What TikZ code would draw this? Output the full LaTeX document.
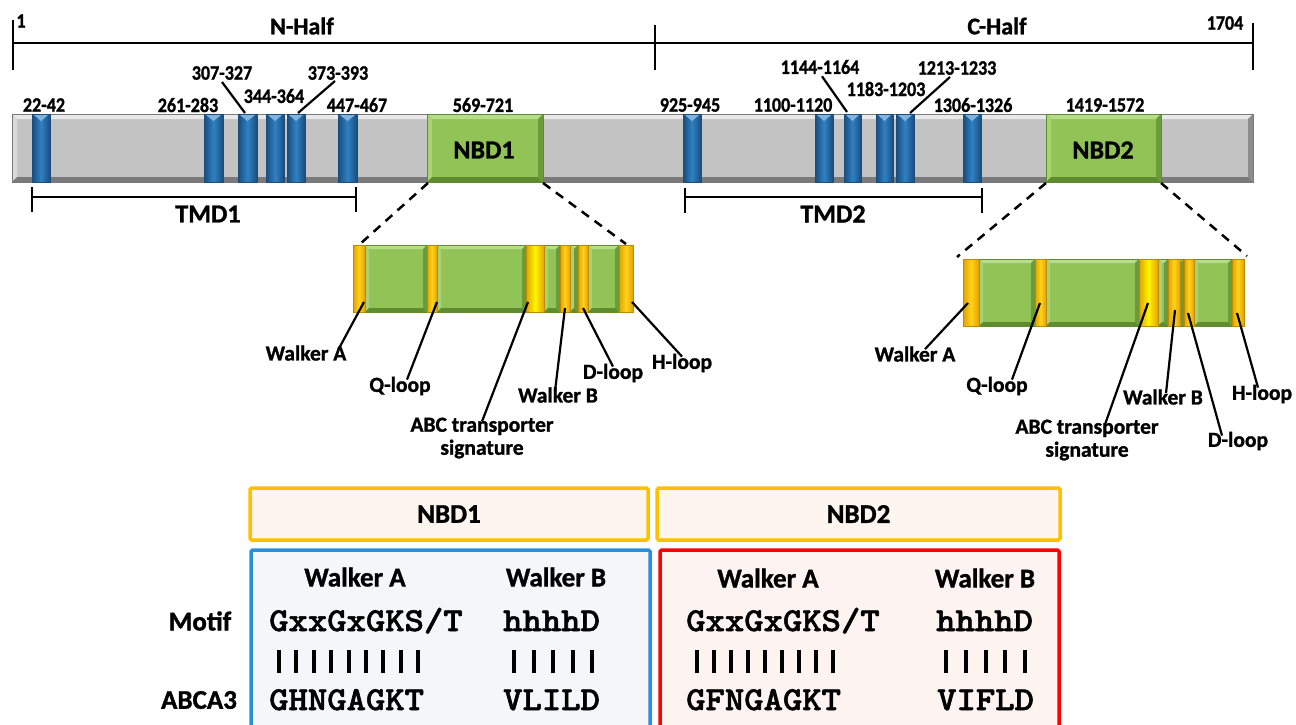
\documentclass[tikz,border=0pt]{standalone}
\usepackage{fontspec}
\setmainfont{Carlito}[BoldFeatures={FakeBold=1.2}]
\newfontfamily\monob{lmmonolt10-bold}[Extension=.otf, FakeBold=1.5]
\definecolor{barg}{HTML}{C3C3C3}
\definecolor{barl}{HTML}{E9E9E9}
\definecolor{bard}{HTML}{7A7A7A}
\definecolor{grn}{HTML}{92C356}
\definecolor{grnl}{HTML}{B7DC8A}
\definecolor{grnd}{HTML}{5E8C2E}
\definecolor{bmid}{HTML}{2F80C4}
\definecolor{bdark}{HTML}{1A4D7C}
\definecolor{ydark}{HTML}{E2A200}
\definecolor{ymid}{HTML}{FFD21A}
\definecolor{ylight}{HTML}{FFF500}
\definecolor{hdrfill}{HTML}{FDF5EE}
\definecolor{gold}{HTML}{FFC000}
\definecolor{bluefill}{HTML}{F4F6F9}
\definecolor{blueline}{HTML}{2A8FDB}
\definecolor{redfill}{HTML}{FDF3F1}
\definecolor{redline}{HTML}{FF0000}
\newcommand{\nm}[1]{\scalebox{0.88}[1]{#1}}
\newcommand{\sq}[1]{\scalebox{1.1}[1]{#1}}
\newcommand{\bevrect}[8]{%
  \fill[#5] (#1,#2) rectangle (#3,#4);
  \fill[#6] (#1,#2) -- (#3,#2) -- ({#3-#8},{#2+#8}) -- ({#1+#8},{#2+#8}) -- cycle;
  \fill[#6!60!#5] (#1,#2) -- ({#1+#8},{#2+#8}) -- ({#1+#8},{#4-#8}) -- (#1,#4) -- cycle;
  \fill[#7] (#1,#4) -- (#3,#4) -- ({#3-#8},{#4-#8}) -- ({#1+#8},{#4-#8}) -- cycle;
  \fill[#7!75!#5] (#3,#2) -- (#3,#4) -- ({#3-#8},{#4-#8}) -- ({#3-#8},{#2+#8}) -- cycle;
  \draw[#7, line width=0.8] (#1,#2) rectangle (#3,#4);
}
\newcommand{\tmseg}[2]{%
  \shade[left color=bdark, right color=bdark, middle color=bmid] (#1,114) rectangle (#2,182);
  \fill[bmid!60!white] (#1+2,115) -- (#2-2,115) -- ({(#1+#2)/2},121) -- cycle;
  \draw[bdark, line width=0.6] (#1,114) rectangle (#2,182);
}
\newcommand{\yband}[5]{%
  \shade[left color=ydark, right color=ydark, middle color=#5] (#1,#3) rectangle (#2,#4);
  \draw[ydark!85!black, line width=0.6] (#1,#3) rectangle (#2,#4);
}
\begin{document}
\begin{tikzpicture}[x=1pt,y=-1pt,
  num/.style={font=\bfseries\fontsize{20.5}{22}\selectfont, inner sep=0},
  half/.style={font=\bfseries\fontsize{24}{26}\selectfont, inner sep=0},
  tmd/.style={font=\bfseries\fontsize{26}{28}\selectfont, inner sep=0},
  part/.style={font=\bfseries\fontsize{21.5}{23}\selectfont, inner sep=0, align=center},
  tab/.style={font=\bfseries\fontsize{27}{30}\selectfont, inner sep=0},
  seq/.style={font=\monob\fontsize{33.5}{35}\selectfont, inner sep=0, anchor=base west},
  rulel/.style={line width=2.5},
  lead/.style={line width=2.2},
  zoomdash/.style={line width=2.5, dash pattern=on 9 off 7},
  vbar/.style={line width=4},
  hdr/.style={draw=gold, line width=3.5, fill=hdrfill, rounded corners=1.5, minimum height=52, inner sep=0, font=\bfseries\fontsize{27}{30}\selectfont}
]
\useasboundingbox (0,0) rectangle (1296,724);
\fill[white] (0,0) rectangle (1296,724);

% ---- ruler ----
\coordinate (r0) at (13,43);
\coordinate (r1) at (655,43);
\coordinate (r2) at (1253,43);
\draw[rulel] (r0) -- (r2);
\draw[rulel] (13,20) -- (13,70);
\draw[rulel] (655,25) -- (655,70);
\draw[rulel] (1253,23) -- (1253,70);
\node[num] (one) at (21,21) {\nm{1}};
\node[num] (end) at (1225,23) {\nm{1704}};
\node[half] (nh) at (302,26) {N-Half};
\node[half] (ch) at (997,26) {C-Half};

% ---- protein bar ----
\bevrect{12}{114}{1253}{182}{barg}{barl}{bard}{5}
\foreach \a/\b in {32/50,204/223,238/257,266/284,287/305,338/357,683/701,815/833,844/861,876/893,896/914,963/981}
  {\tmseg{\a}{\b}}
\bevrect{427}{114}{543}{182}{grn}{grnl}{grnd}{5}
\bevrect{1046}{114}{1161}{182}{grn}{grnl}{grnd}{5}
\node[tmd] (nbd1) at (484,150) {NBD1};
\node[tmd] (nbd2) at (1103,150) {NBD2};

% ---- TM labels ----
\node[num] (l22) at (44,105) {\nm{22-42}};
\node[num] (l261) at (188,105) {\nm{261-283}};
\node[num] (l307) at (222,73) {\nm{307-327}};
\node[num] (l344) at (274,96) {\nm{344-364}};
\node[num] (l373) at (338,73) {\nm{373-393}};
\node[num] (l447) at (357,105) {\nm{447-467}};
\node[num] (l569) at (483,105) {\nm{569-721}};
\node[num] (l925) at (690,105) {\nm{925-945}};
\node[num] (l1100) at (793,105) {\nm{1100-1120}};
\node[num] (l1144) at (820,67) {\nm{1144-1164}};
\node[num] (l1183) at (886,89) {\nm{1183-1203}};
\node[num] (l1213) at (957,68) {\nm{1213-1233}};
\node[num] (l1306) at (973,105) {\nm{1306-1326}};
\node[num] (l1419) at (1105,105) {\nm{1419-1572}};
\coordinate (t307) at (245,113);
\coordinate (t373) at (298,113);
\coordinate (t1144) at (847,112);
\coordinate (t1213) at (910,113);
\draw[lead] ([yshift=-2pt]l307.south) -- (t307);
\draw[lead] ([xshift=-3pt,yshift=-1pt]l373.south) -- (t373);
\draw[lead] ([xshift=2pt,yshift=-2pt]l1144.south) -- (t1144);
\draw[lead] ([xshift=-7pt,yshift=-2pt]l1213.south) -- (t1213);

% ---- TMD brackets ----
\draw[rulel] (32,197) -- (356,197);
\draw[rulel] (32,187) -- (32,212);
\draw[rulel] (356,187) -- (356,212);
\node[tmd] (tmd1) at (208,214) {TMD1};
\draw[rulel] (685,197) -- (982,197);
\draw[rulel] (685,188) -- (685,213);
\draw[rulel] (982,188) -- (982,213);
\node[tmd] (tmd2) at (833,214) {TMD2};

% ---- zoom lines ----
\coordinate (n1bl) at (428,183);
\coordinate (n1br) at (543,183);
\coordinate (d1tl) at (360,244);
\coordinate (d1tr) at (626,244);
\coordinate (n2bl) at (1046,183);
\coordinate (n2br) at (1161,183);
\coordinate (d2tl) at (957,257);
\coordinate (d2tr) at (1247,256);
\draw[zoomdash] (n1bl) -- (d1tl);
\draw[zoomdash] (n1br) -- (d1tr);
\draw[zoomdash] (n2bl) -- (d2tl);
\draw[zoomdash] (n2br) -- (d2tr);

% ---- NBD1 detail ----
\bevrect{353}{245}{633}{312}{grn}{grnl}{grnd}{4}
\foreach \a/\b in {365/427,437/526,544/560,570/578,588/619}
  {\bevrect{\a}{245}{\b}{312}{grn}{grnl}{grnd}{4}}
\yband{353}{365}{245}{312}{ymid}
\yband{427}{437}{245}{312}{ymid}
\yband{526}{544}{245}{312}{ylight}
\yband{560}{570}{245}{312}{ymid}
\yband{578}{588}{245}{312}{ymid}
\yband{619}{633}{245}{312}{ymid}

\node[part] (wa1) at (306,353) {Walker A};
\node[part] (q1) at (400,386) {Q-loop};
\node[part] (abc1) at (482,438) {ABC transporter\\signature};
\node[part] (wb1) at (558,395) {Walker B};
\node[part] (dl1) at (613,373) {D-loop};
\node[part] (hl1) at (682,363) {H-loop};
\coordinate (ba1) at (364,302);
\coordinate (bq1) at (437,302);
\coordinate (bs1) at (528,302);
\coordinate (bb1) at (565,308);
\coordinate (bd1) at (583,308);
\coordinate (bh1) at (632,302);
\draw[lead] ([xshift=-8pt,yshift=-4pt]wa1.north east) -- (ba1);
\draw[lead] ([xshift=7pt,yshift=-3pt]q1.north) -- (bq1);
\draw[lead] ([yshift=-4pt]abc1.north) -- (bs1);
\draw[lead] ([xshift=-3pt,yshift=-4pt]wb1.north) -- (bb1);
\draw[lead] ([yshift=-3pt]dl1.north) -- (bd1);
\draw[lead] ([yshift=-3pt]hl1.north) -- (bh1);

% ---- NBD2 detail ----
\bevrect{963}{259}{1244}{326}{grn}{grnl}{grnd}{4}
\foreach \a/\b in {979/1035,1046/1139,1158/1168,1180/1184,1194/1232}
  {\bevrect{\a}{259}{\b}{326}{grn}{grnl}{grnd}{4}}
\yband{963}{979}{259}{326}{ymid}
\yband{1035}{1046}{259}{326}{ymid}
\yband{1139}{1158}{259}{326}{ylight}
\yband{1168}{1180}{259}{326}{ymid}
\yband{1184}{1194}{259}{326}{ymid}
\yband{1232}{1244}{259}{326}{ymid}

\node[part] (wa2) at (915,354) {Walker A};
\node[part] (q2) at (997,386) {Q-loop};
\node[part] (abc2) at (1087,440) {ABC transporter\\signature};
\node[part] (wb2) at (1163,397) {Walker B};
\node[part] (dl2) at (1238,441) {D-loop};
\node[part] (hl2) at (1262,394) {H-loop};
\coordinate (ba2) at (968,303);
\coordinate (bq2) at (1040,303);
\coordinate (bs2) at (1148,303);
\coordinate (bb2) at (1175,310);
\coordinate (bd2) at (1188,313);
\coordinate (bh2) at (1237,313);
\draw[lead] ([xshift=10pt,yshift=-3pt]wa2.north) -- (ba2);
\draw[lead] ([xshift=15pt,yshift=-3pt]q2.north) -- (bq2);
\draw[lead] ([xshift=18pt,yshift=-5pt]abc2.north) -- (bs2);
\draw[lead] ([xshift=3pt,yshift=-4pt]wb2.north) -- (bb2);
\draw[lead] ([xshift=-16pt,yshift=-4pt]dl2.north) -- (bd2);
\draw[lead] ([xshift=-4pt,yshift=-3pt]hl2.north) -- (bh2);

% ---- table ----
\node[hdr, minimum width=398] (h1) at (449,514) {NBD1};
\node[hdr, minimum width=403] (h2) at (858.5,514) {NBD2};
\draw[blueline, line width=3.5, fill=bluefill, rounded corners=1.5] (251,550) rectangle (650,760);
\draw[redline, line width=3.5, fill=redfill, rounded corners=1.5] (660,550) rectangle (1059,760);

\node[tab] (motif) at (200,621) {Motif};
\node[tab] (abca3) at (199,700) {ABCA3};

\node[tab] (wah1) at (355,577) {Walker A};
\node[tab] (wbh1) at (556,577) {Walker B};
\node[seq] (m1a) at (269,631) {\sq{GxxGxGKS/T}};
\node[seq] (m1b) at (503,631) {\sq{hhhhD}};
\node[seq] (s1a) at (269,710) {\sq{GHNGAGKT}};
\node[seq] (s1b) at (503,710) {\sq{VLILD}};
\foreach \i in {0,...,8} \draw[vbar] ({279+17.4*\i},650) -- ({279+17.4*\i},673);
\foreach \i in {0,...,4} \draw[vbar] ({514+19.6*\i},650) -- ({514+19.6*\i},673);

\node[tab] (wah2) at (768,578) {Walker A};
\node[tab] (wbh2) at (985,578) {Walker B};
\node[seq] (m2a) at (686,631) {\sq{GxxGxGKS/T}};
\node[seq] (m2b) at (936,631) {\sq{hhhhD}};
\node[seq] (s2a) at (686,710) {\sq{GFNGAGKT}};
\node[seq] (s2b) at (937,710) {\sq{VIFLD}};
\foreach \i in {0,...,8} \draw[vbar] ({697+17*\i},650) -- ({697+17*\i},673);
\foreach \i in {0,...,4} \draw[vbar] ({946+19.75*\i},650) -- ({946+19.75*\i},673);
\end{tikzpicture}
\end{document}
